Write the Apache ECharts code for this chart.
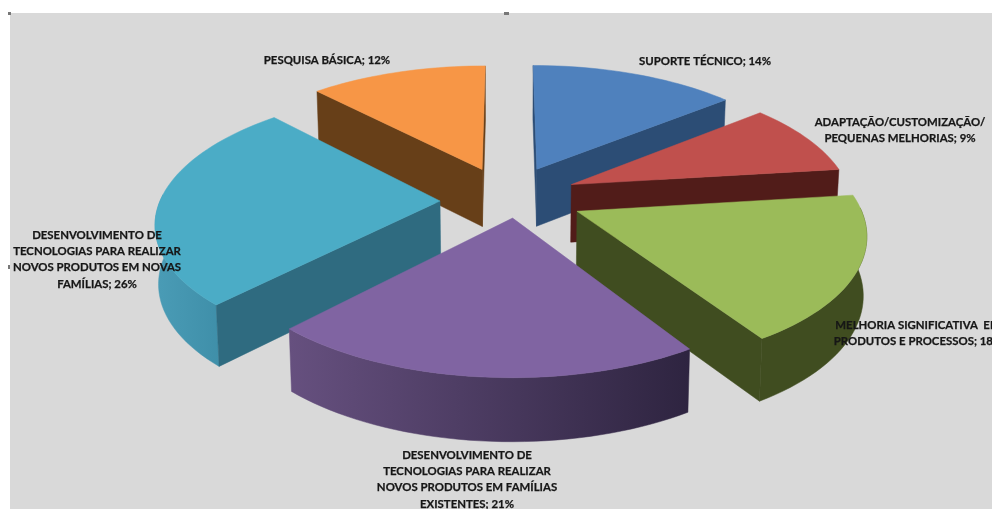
<!DOCTYPE html>
<html>
<head>
<meta charset="utf-8">
<style>html,body{margin:0;padding:0;background:#fff}#c{width:992px;height:509px}</style>
<script src="https://cdn.jsdelivr.net/npm/echarts@6/dist/echarts.min.js"></script>
</head>
<body>
<div id="c"></div>
<script>
// Share of each R&D activity, clockwise from twelve o'clock.
var categories = [
  'SUPORTE TÉCNICO',
  'ADAPTAÇÃO/CUSTOMIZAÇÃO/\nPEQUENAS MELHORIAS',
  'MELHORIA SIGNIFICATIVA  EM\nPRODUTOS E PROCESSOS',
  'DESENVOLVIMENTO DE\nTECNOLOGIAS PARA REALIZAR\nNOVOS PRODUTOS EM FAMÍLIAS\nEXISTENTES',
  'DESENVOLVIMENTO DE\nTECNOLOGIAS PARA REALIZAR\nNOVOS PRODUTOS EM NOVAS\nFAMÍLIAS',
  'PESQUISA BÁSICA'
];
var shares = [14, 9, 18, 21, 26, 12];

// Face colours per slice.
var topColors  = ['#4f81bd', '#c0504d', '#9bbb59', '#8064a2', '#4bacc6', '#f79646'];
var wallColors = ['#2c4d75', '#511c19', '#404d20', '#4d3b62', '#2f6b80', '#673f18'];
var rimColors  = [
  ['#2c4d75', '#2c4d75'], ['#511c19', '#511c19'], ['#404d20', '#404d20'],
  ['#66507f', '#2e2440'], ['#4a9cb6', '#3f8fa9'], ['#673f18', '#673f18']
];

// Back-to-front paint order and label anchors (centre x, first-line y).
var paintOrder = [0, 5, 1, 4, 2, 3];
var labelX = [705, 900, 918, 467, 97, 327];
var labelY = [61, 122, 325, 455, 235, 60];

// Perspective view of the exploded pie; each slice has its own pull-out distance.
var view = { cx: 509, cy: 198, sx: 280, sy: 127, persp: 0.15, height: 58 };
var explode = [0.25, 0.25, 0.26, 0.20, 0.25, 0.25];
var driftX = [-1, -1, 1, 9, 1, -2];
var driftY = [-1, -1, -1, -6, 3, 0];

function project(i, X, Y, drop) {
  var f = 1 / (1 + view.persp * Y);
  var px = view.cx + view.sx * X * f;
  var py = view.cy - view.sy * Y * f;
  if (drop) {
    px = view.cx + (px - view.cx) * 0.99;
    py = py + view.height * Math.sqrt(f);
  }
  return [px + driftX[i], py + driftY[i]];
}

function wedge(i) {
  var before = 0, total = 0;
  shares.forEach(function (v, k) { total += v; if (k < i) before += v; });
  var a0 = before / total * 2 * Math.PI;
  var a1 = (before + shares[i]) / total * 2 * Math.PI;
  var mid = (a0 + a1) / 2;
  var ox = explode[i] * Math.sin(mid), oy = explode[i] * Math.cos(mid);
  var steps = Math.max(12, Math.round((a1 - a0) * 30));
  var angles = [];
  for (var s = 0; s <= steps; s++) { angles.push(a0 + (a1 - a0) * s / steps); }
  return {
    ox: ox, oy: oy,
    angles: angles,
    arc: angles.map(function (a) { return [ox + Math.sin(a), oy + Math.cos(a)]; })
  };
}

function renderSlice(params, api) {
  var i = api.value(0);
  var w = wedge(i);
  var topArc = w.arc.map(function (p) { return project(i, p[0], p[1], false); });
  var lowArc = w.arc.map(function (p) { return project(i, p[0], p[1], true); });
  var apex = project(i, w.ox, w.oy, false);
  var apexLow = project(i, w.ox, w.oy, true);
  var midTop = topArc[Math.floor(topArc.length / 2)];

  var children = [];
  var shape = function (points, fill, stroke) {
    children.push({
      type: 'polygon', shape: { points: points },
      style: { fill: fill, stroke: stroke || null, lineWidth: stroke ? 0.5 : 0 }
    });
  };

  // Outer rim: only the part of the arc facing the viewer.
  var rimTop = [], rimLow = [];
  w.angles.forEach(function (a, k) {
    if (Math.cos(a) < 0.05) { rimTop.push(topArc[k]); rimLow.push(lowArc[k]); }
  });
  if (rimTop.length > 1) {
    var rimFill = {
      type: 'linear', x: 0, y: 0, x2: 1, y2: 0,
      colorStops: [{ offset: 0, color: rimColors[i][0] }, { offset: 1, color: rimColors[i][1] }]
    };
    shape(rimTop.concat(rimLow.slice().reverse()), rimFill, rimFill);
  }

  // Radial cut faces that turn towards the viewer.
  [[topArc[0], lowArc[0]], [topArc[topArc.length - 1], lowArc[lowArc.length - 1]]].forEach(function (edge) {
    var dx = edge[0][0] - apex[0], dy = edge[0][1] - apex[1];
    var nx = dy, ny = -dx;
    if (nx * (midTop[0] - apex[0]) + ny * (midTop[1] - apex[1]) > 0) { nx = -nx; ny = -ny; }
    if (ny > 0) {
      shape([apex, edge[0], edge[1], apexLow], wallColors[i], wallColors[i]);
    }
  });

  // Top face.
  shape([apex].concat(topArc), topColors[i], topColors[i]);

  children.push({
    type: 'text',
    z2: 100,
    style: {
      text: categories[i] + '; ' + shares[i] + '%',
      x: labelX[i], y: labelY[i] - 8,
      align: 'center', verticalAlign: 'top',
      font: 'bold 11.4px Lato', lineHeight: 16.3, fill: '#161616',
      stroke: '#161616', lineWidth: 0.25
    }
  });
  return { type: 'group', children: children };
}

var chart = echarts.init(document.getElementById('c'), null, { renderer: 'canvas' });
chart.setOption({
  animation: false,
  backgroundColor: '#ffffff',
  graphic: [
    { type: 'rect', z: -10, shape: { x: 10, y: 13, width: 982, height: 496 }, style: { fill: '#d9d9d9' } },
    { type: 'rect', z: 10, shape: { x: 8, y: 12, width: 3, height: 3 }, style: { fill: '#777777' } },
    { type: 'rect', z: 10, shape: { x: 504, y: 12, width: 5, height: 3 }, style: { fill: '#777777' } },
    { type: 'rect', z: 10, shape: { x: 8, y: 265, width: 2, height: 4 }, style: { fill: '#777777' } }
  ],
  series: [{
    type: 'custom',
    coordinateSystem: 'none',
    clip: false,
    silent: true,
    encode: { value: 0 },
    data: paintOrder.map(function (i) { return [i, shares[i]]; }),
    renderItem: renderSlice
  }]
});
</script>
</body>
</html>
